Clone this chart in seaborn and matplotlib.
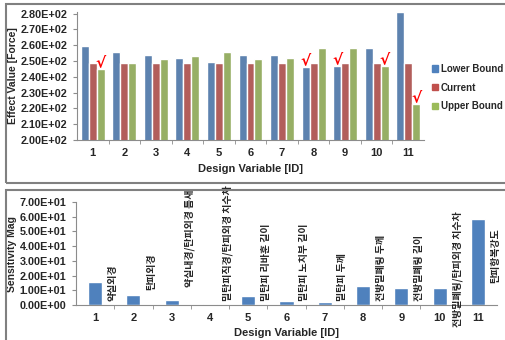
import matplotlib
matplotlib.use("Agg")
import matplotlib.pyplot as plt
import matplotlib.ticker
from matplotlib.patches import Rectangle
import seaborn as sns
import pandas as pd

# design variable ids
design_ids = ["1", "2", "3", "4", "5", "6", "7", "8", "9", "10", "11"]

# effect values [force] for each bound
lower_bound = [259.5, 255.5, 254, 252, 249.5, 253.5, 253.5, 246.5, 247, 258, 281]
current = [249, 249, 249, 249, 249, 249, 249, 249, 249, 249, 249]
upper_bound = [245, 249, 251, 253, 255.5, 251, 252, 258.5, 258, 247, 223]
series_names = ["Lower Bound", "Current", "Upper Bound"]

# bars marked with a check (id, series)
checked = [("1", "Upper Bound"), ("8", "Lower Bound"), ("9", "Lower Bound"),
           ("10", "Upper Bound"), ("11", "Upper Bound")]

# sensitivity magnitude
sensitivity = [15.3, 6.6, 3.5, 0.8, 6.2, 2.7, 1.8, 12.7, 11.5, 11.8, 58.3]
var_names = ["약실외경", "탄피외경", "약실내경/탄피외경 틈새", "밀탄피직경/탄피외경 치수차",
             "밀탄피 리바훈 길이", "밀탄피 노치부 길이", "밀탄피 두께", "전방밀폐링 두께",
             "전방밀폐링 길이", "전방밀폐링/탄피외경 치수차", "탄피항복강도"]

colors = ["#4F81BD", "#C0504D", "#9BBB59"]

sns.set_style("white")
plt.rcParams["font.family"] = ["Liberation Sans", "Noto Sans CJK KR"]
plt.rcParams["font.weight"] = "bold"

df = pd.DataFrame({
    "id": design_ids * 3,
    "value": lower_bound + current + upper_bound,
    "series": [s for s in series_names for _ in design_ids],
})

fig = plt.figure(figsize=(5.05, 3.40), dpi=100)

# chart frames
fig.patches.append(Rectangle((6 / 505, 1 - 183 / 340), 505 / 505, 179 / 340,
                             transform=fig.transFigure, fill=False,
                             edgecolor="#808080", lw=1.5))
fig.patches.append(Rectangle((6 / 505, -0.05), 505 / 505, 1 - 190 / 340 + 0.05,
                             transform=fig.transFigure, fill=False,
                             edgecolor="#808080", lw=1.5))

ax1 = fig.add_axes([77 / 505, 1 - 140 / 340, 347 / 505, 128 / 340])
sns.barplot(data=df, x="id", y="value", hue="series", palette=colors,
            width=0.76, ax=ax1, legend=False)
ax1.set_ylim(200, 281)
ax1.set_yticks(range(200, 281, 10))
ax1.yaxis.set_major_formatter(matplotlib.ticker.FormatStrFormatter("%.2E"))
ax1.set_xlim(-0.5, len(design_ids) - 0.5)
ax1.set_ylabel("Effect Value [Force]", fontsize=7.5, fontweight="bold", labelpad=2)
ax1.set_xlabel("Design Variable [ID]", fontsize=8, fontweight="bold", labelpad=4)

# check marks above selected bars
n = len(design_ids)
for cat, ser in checked:
    k = series_names.index(ser) * n + design_ids.index(cat)
    p = ax1.patches[k]
    ax1.text(p.get_x() + p.get_width() / 2, p.get_height() - 1, "√", color="red",
             fontsize=11, fontweight="bold", ha="center", va="bottom",
             family="DejaVu Sans")

handles = [Rectangle((0, 0), 1, 1, color=c) for c in colors]
fig.legend(handles, series_names, loc="upper left",
           bbox_to_anchor=(430 / 505, 1 - 62 / 340), frameon=False,
           handlelength=0.6, handleheight=0.6, handletextpad=0.3,
           labelspacing=0.9, borderpad=0.2, borderaxespad=0,
           prop={"weight": "bold", "size": 7})

ax2 = fig.add_axes([76 / 505, 1 - 305 / 340, 421 / 505, 103 / 340])
sns.barplot(x=design_ids, y=sensitivity, color=colors[0], width=0.37,
            saturation=1, ax=ax2)
ax2.set_ylim(0, 70)
ax2.set_yticks(range(0, 71, 10))
ax2.yaxis.set_major_formatter(matplotlib.ticker.FormatStrFormatter("%.2E"))
ax2.set_xlim(-0.5, len(design_ids) - 0.5)
ax2.set_ylabel("Sensitivity Mag", fontsize=7.5, fontweight="bold", labelpad=2)
ax2.set_xlabel("Design Variable [ID]", fontsize=8, fontweight="bold", labelpad=3)

label_base = [3] * len(var_names)
label_base[1] = 10
label_base[2] = 12
label_base[9] = -15
label_base[10] = 15
for i, name in enumerate(var_names):
    ax2.text(i + 0.46, label_base[i], name, rotation=90, ha="center", va="bottom",
             fontsize=7.2, fontweight="bold", family=["Noto Sans CJK KR"],
             clip_on=False)

for ax in (ax1, ax2):
    for s in ("top", "right"):
        ax.spines[s].set_visible(False)
    for s in ("left", "bottom"):
        ax.spines[s].set_color("#8c8c8c")
        ax.spines[s].set_linewidth(0.8)
    ax.set_xticks([i + 0.5 for i in range(len(design_ids) - 1)], minor=True)
    ax.tick_params(axis="x", which="major", length=0, labelsize=8, pad=6)
    ax.tick_params(axis="x", which="minor", length=3, color="#8c8c8c", direction="out",
                   bottom=True)
    ax.tick_params(axis="y", length=3, color="#8c8c8c", labelsize=7.8, left=True, pad=4)
    for t in ax.get_xticklabels() + ax.get_yticklabels():
        t.set_fontweight("bold")

fig.savefig("out.png", dpi=100)
